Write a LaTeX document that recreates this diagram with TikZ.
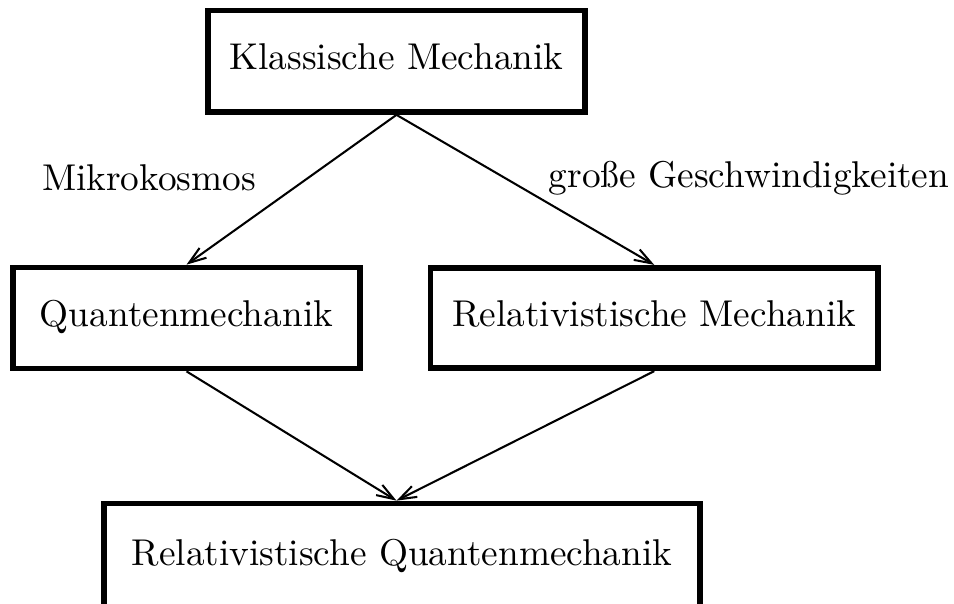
\documentclass[tikz,border=0pt]{standalone}
\usepackage{fontspec}
\usetikzlibrary{arrows.meta}
\newlength{\pu}
\setlength{\pu}{0.2681pt}
\tikzset{
  box/.style={draw, line width=1.53pt, inner sep=0pt, text depth=2.7pt, text height=7pt, align=center},
  conn/.style={line width=0.55pt, -{Straight Barb[length=4.6pt,width=3.2pt]}},
  lbl/.style={anchor=base, inner sep=0pt}
}
\begin{document}
\begin{tikzpicture}[x=\pu, y=-\pu]
\clip (0,0) rectangle (954,603);
\useasboundingbox (0,0) rectangle (954,603);
\node[box, minimum width=377\pu, minimum height=101.5\pu] (k) at (396.5,61.25) {Klassische Mechanik};
\node[box, minimum width=347\pu, minimum height=101\pu] (q) at (186.5,318) {Quantenmechanik};
\node[box, minimum width=447.5\pu, minimum height=100.5\pu] (r) at (654.25,318) {Relativistische Mechanik};
\node[box, minimum width=596\pu, minimum height=107\pu] (b) at (402,557) {Relativistische Quantenmechanik};
\node[lbl] (m) at (149,190) {Mikrokosmos};
\node[lbl] (g) at (749,187) {große Geschwindigkeiten};
\coordinate (t) at (k.south |- b.north);
\draw[conn] (k.south) -- (q.north);
\draw[conn] (k.south) -- (r.north);
\draw[conn] (q.south) -- (t);
\draw[conn] (r.south) -- (t);
\end{tikzpicture}
\end{document}
